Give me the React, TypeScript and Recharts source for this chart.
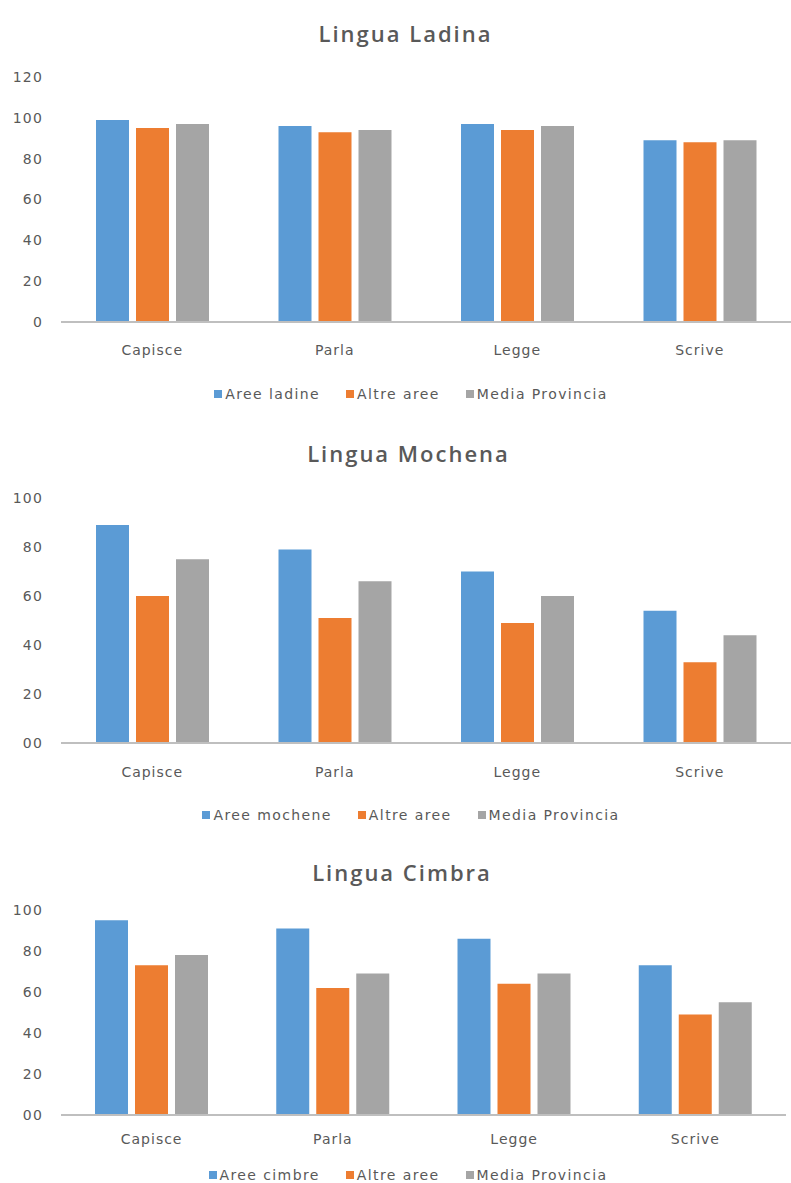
import { Bar, BarChart, Legend, XAxis, YAxis } from "recharts"

const categories = ["Capisce", "Parla", "Legge", "Scrive"]

const ladinaLocal = [99, 96, 97, 89]
const ladinaOther = [95, 93, 94, 88]
const ladinaProvince = [97, 94, 96, 89]

const mochenaLocal = [89, 79, 70, 54]
const mochenaOther = [60, 51, 49, 33]
const mochenaProvince = [75, 66, 60, 44]

const cimbraLocal = [95, 91, 86, 73]
const cimbraOther = [73, 62, 64, 49]
const cimbraProvince = [78, 69, 69, 55]

const ladinaTicks = [0, 20, 40, 60, 80, 100, 120]
const minorityTicks = [0, 20, 40, 60, 80, 100]

const BLUE = "#5B9BD5"
const ORANGE = "#ED7D31"
const GRAY = "#A5A5A5"
const TEXT = "#595959"
const FONT = "DejaVu Sans, sans-serif"

function buildRows(local: number[], other: number[], province: number[]) {
  return categories.map((label, i) => ({
    label,
    local: local[i],
    other: other[i],
    province: province[i],
  }))
}

interface LegendRowProps {
  payload?: { value: string; color: string }[]
  order: string[]
  shift: number
}

function LegendRow({ payload = [], order, shift }: LegendRowProps) {
  // recharts sorts legend items by name, put them back in series order
  const items = [...payload].sort((a, b) => order.indexOf(a.value) - order.indexOf(b.value))
  return (
    <div
      style={{
        display: "flex",
        justifyContent: "center",
        alignItems: "center",
        height: 20,
        paddingLeft: shift,
        fontFamily: FONT,
        fontSize: 14,
        letterSpacing: 1.4,
        color: TEXT,
      }}
    >
      {items.map((item, i) => (
        <div
          key={item.value}
          style={{ display: "flex", alignItems: "center", marginLeft: i === 0 ? 0 : 26 }}
        >
          <span style={{ width: 8, height: 8, background: item.color, marginRight: 3 }} />
          <span>{item.value}</span>
        </div>
      ))}
    </div>
  )
}

interface LanguageChartProps {
  title: string
  localName: string
  local: number[]
  other: number[]
  province: number[]
  ticks: number[]
  zeroLabel: string
  top: number
  height: number
  margin: { top: number; right: number; bottom: number; left: number }
  xAxisHeight: number
  labelMargin: number
  titleTop: number
  titleShift: number
  legendShift: number
}

function LanguageChart(props: LanguageChartProps) {
  const data = buildRows(props.local, props.other, props.province)
  const max = props.ticks[props.ticks.length - 1]
  const order = [props.localName, "Altre aree", "Media Provincia"]
  return (
    <div style={{ position: "absolute", left: 0, top: props.top, width: 791, height: props.height }}>
      <div
        style={{
          position: "absolute",
          left: 0,
          top: props.titleTop - 14,
          width: 791,
          paddingLeft: props.titleShift,
          boxSizing: "border-box",
          textAlign: "center",
          lineHeight: "28px",
          fontFamily: "Open Sans, sans-serif",
          fontWeight: 600,
          fontSize: 22,
          letterSpacing: 2,
          color: TEXT,
        }}
      >
        {props.title}
      </div>
      <BarChart
        width={791}
        height={props.height}
        data={data}
        margin={props.margin}
        barGap={7}
        style={{ position: "absolute", left: 0, top: 0 }}
      >
        <XAxis
          dataKey="label"
          height={props.xAxisHeight}
          tickLine={false}
          tickSize={0}
          tickMargin={props.labelMargin}
          axisLine={{ stroke: "#BFBFBF", strokeWidth: 2 }}
          tick={{ fill: TEXT, fontSize: 14, fontFamily: FONT, letterSpacing: 1 }}
        />
        <YAxis
          width={50}
          domain={[0, max]}
          ticks={props.ticks}
          interval={0}
          axisLine={false}
          tickLine={false}
          tickSize={0}
          tickMargin={18}
          tick={{ fill: TEXT, fontSize: 14, fontFamily: FONT, letterSpacing: 1.2 }}
          tickFormatter={(v: number) => (v === 0 ? props.zeroLabel : String(v))}
        />
        <Legend
          verticalAlign="bottom"
          height={20}
          content={(p: any) => <LegendRow payload={p.payload} order={order} shift={props.legendShift} />}
        />
        <Bar dataKey="local" name={props.localName} fill={BLUE} barSize={33} isAnimationActive={false} />
        <Bar dataKey="other" name="Altre aree" fill={ORANGE} barSize={33} isAnimationActive={false} />
        <Bar dataKey="province" name="Media Provincia" fill={GRAY} barSize={33} isAnimationActive={false} />
      </BarChart>
    </div>
  )
}

export default function App() {
  return (
    <div style={{ position: "absolute", left: 0, top: 0, width: 791, height: 1183, background: "#fff", overflow: "hidden" }}>
      <LanguageChart
        title="Lingua Ladina"
        localName="Aree ladine"
        local={ladinaLocal}
        other={ladinaOther}
        province={ladinaProvince}
        ticks={ladinaTicks}
        zeroLabel="0"
        top={0}
        height={410}
        margin={{ top: 77, right: 0, bottom: 6, left: 11 }}
        xAxisHeight={62}
        labelMargin={23}
        titleTop={33}
        titleShift={20}
        legendShift={20}
      />
      <LanguageChart
        title="Lingua Mochena"
        localName="Aree mochene"
        local={mochenaLocal}
        other={mochenaOther}
        province={mochenaProvince}
        ticks={minorityTicks}
        zeroLabel="00"
        top={410}
        height={420}
        margin={{ top: 88, right: 0, bottom: 5, left: 11 }}
        xAxisHeight={62}
        labelMargin={24}
        titleTop={43}
        titleShift={26}
        legendShift={20}
      />
      <LanguageChart
        title="Lingua Cimbra"
        localName="Aree cimbre"
        local={cimbraLocal}
        other={cimbraOther}
        province={cimbraProvince}
        ticks={minorityTicks}
        zeroLabel="00"
        top={830}
        height={355}
        margin={{ top: 80, right: 5, bottom: 0, left: 11 }}
        xAxisHeight={50}
        labelMargin={19}
        titleTop={42}
        titleShift={13}
        legendShift={19}
      />
    </div>
  )
}
